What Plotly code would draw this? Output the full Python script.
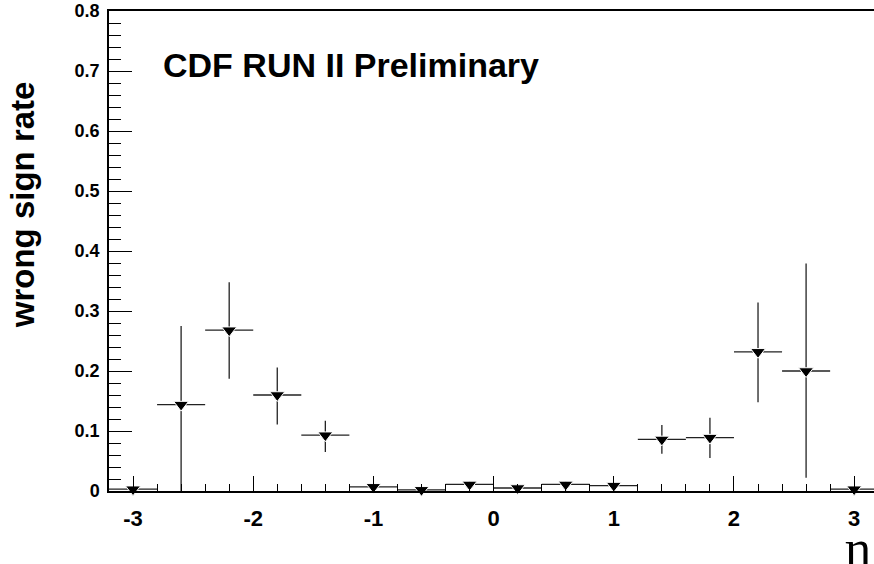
import plotly.graph_objects as go

# bin centres (eta) and wrong-sign rate
eta = [-3.0, -2.6, -2.2, -1.8, -1.4, -1.0, -0.6, -0.2, 0.2, 0.6, 1.0, 1.4, 1.8, 2.2, 2.6, 3.0]
rate = [0.003, 0.144, 0.268, 0.160, 0.093, 0.007, 0.002, 0.011, 0.005, 0.011, 0.009,
        0.086, 0.089, 0.232, 0.200, 0.003]
err_up = [0.004, 0.131, 0.080, 0.046, 0.024, 0.005, 0.003, 0.005, 0.005, 0.005, 0.005,
          0.024, 0.033, 0.082, 0.179, 0.004]
err_down = [0.003, 0.144, 0.081, 0.049, 0.028, 0.005, 0.002, 0.005, 0.005, 0.005, 0.005,
            0.024, 0.034, 0.084, 0.178, 0.003]
half_width = [0.2] * len(eta)

x_tickvals = [-3, -2, -1, 0, 1, 2, 3]
x_ticktext = ["-3", "-2", "-1", "0", "1", "2", "3"]

fig = go.Figure()
fig.add_trace(go.Scatter(
    x=eta, y=rate, mode="markers",
    marker=dict(symbol="triangle-down", size=13, color="black",
                line=dict(color="white", width=1)),
    error_y=dict(type="data", array=err_up, arrayminus=err_down, symmetric=False,
                 color="#222222", thickness=1.3, width=0),
    error_x=dict(type="data", array=half_width, color="#222222", thickness=1.3, width=0),
    cliponaxis=False, showlegend=False,
))

fig.update_layout(
    width=874, height=564,
    margin=dict(l=109, r=0, t=11, b=73, autoexpand=False),
    paper_bgcolor="white", plot_bgcolor="white",
    font=dict(family="Liberation Sans, Arial, sans-serif", color="black"),
    xaxis=dict(range=[-3.2, 3.165], tickvals=x_tickvals, ticktext=x_ticktext,
               ticks="inside", ticklen=15, automargin=False, ticklabelstandoff=7,
               tickwidth=1, tickcolor="black", showgrid=False, zeroline=False,
               showline=True, linecolor="black", linewidth=1.5, mirror=True,
               tickfont=dict(size=22, weight="bold", family="Liberation Sans, Arial"),
               minor=dict(dtick=0.2, tick0=0, ticks="inside", ticklen=7, tickcolor="black",
                          tickwidth=1, showgrid=False)),
    yaxis=dict(range=[0, 0.8], tick0=0, dtick=0.1, ticks="inside", ticklen=23,
               automargin=False, ticklabelstandoff=4,
               tickwidth=1, tickcolor="black", showgrid=False, zeroline=False,
               showline=True, linecolor="black", linewidth=1.5, mirror=False,
               tickfont=dict(size=18, weight="bold", family="Liberation Sans, Arial"),
               minor=dict(dtick=0.02, ticks="inside", ticklen=12, tickcolor="black",
                          tickwidth=1, showgrid=False)),
)

fig.add_annotation(text="CDF RUN II Preliminary", xref="paper", yref="paper",
                   x=0.068, y=0.8875, xanchor="left", yanchor="middle", showarrow=False,
                   font=dict(size=34, weight="bold", family="Liberation Sans, Arial"))
fig.add_annotation(text="wrong sign rate", xref="paper", yref="paper",
                   x=-0.112, y=0.596, xanchor="center", yanchor="middle", showarrow=False,
                   textangle=-90,
                   font=dict(size=33, weight="bold", family="Liberation Sans, Arial"))
fig.add_annotation(text="η", xref="paper", yref="paper",
                   x=0.96, y=-0.118, xanchor="left", yanchor="middle", showarrow=False,
                   font=dict(size=50, family="Liberation Serif, DejaVu Serif, serif"))

fig.write_html("out.html", config={"displayModeBar": False},
               post_script="document.body.style.margin='0';")
